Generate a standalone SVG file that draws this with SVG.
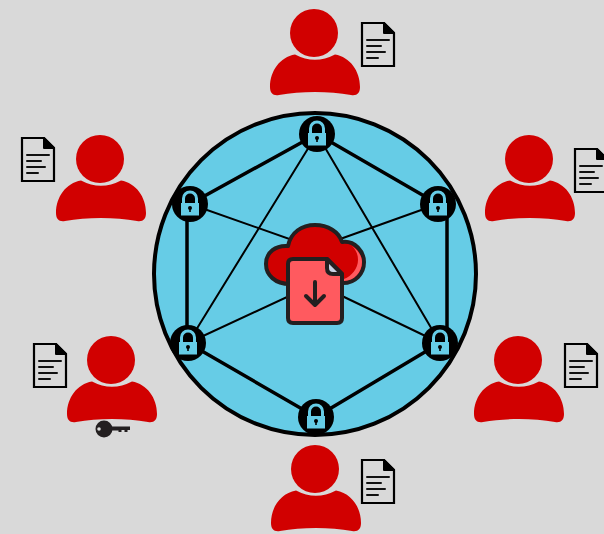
<svg xmlns="http://www.w3.org/2000/svg" width="604" height="534" viewBox="0 0 604 534">
<style>
.thin{stroke:#000;stroke-width:2;fill:none}
.thick{stroke:#000;stroke-width:3.500;fill:none}
.red{fill:#d10000}
.docline{stroke:#111;stroke-width:2;stroke-linecap:round;fill:none}
.outline{stroke:#231f20;stroke-width:4;stroke-linejoin:round}
</style>
<defs>
<g id="user">
<circle cx="0" cy="0" r="24" class="red"/>
<path class="red" d="M-19 21.500Q1 32 21 21.500C36 24 46 38 46 54C46 60 43 63 37 62C15 58-13 58-35 62C-41 63-44 60-44 54C-44 38-34 24-19 21.500Z"/>
</g>
<g id="doc">
<path d="M1 1H23L33 11V44H1Z" fill="none" stroke="#000" stroke-width="2.200"/>
<path d="M23 1L33 11H23Z" fill="#000" stroke="#000" stroke-width="2" stroke-linejoin="round"/>
<path class="docline" d="M6 18H28M6 24H20M6 30H24M6 36H17"/>
</g>
<g id="lock">
<circle r="18" fill="#000"/>
<path d="M-6.500-1V-5.500A6.500 6.500 0 0 1 6.500-5.500V-1" fill="none" stroke="#66cce6" stroke-width="3"/>
<rect x="-9" y="-1" width="18" height="12.500" fill="#66cce6"/>
<circle cx="0" cy="4" r="2" fill="#000"/>
<rect x="-0.800" y="4" width="1.600" height="4" fill="#000"/>
</g>
</defs>
<rect width="604" height="534" fill="#d9d9d9"/>
<circle cx="315" cy="274" r="161" fill="#66cce6" stroke="#000" stroke-width="4"/>
<g id="connectors">
<path class="thick" d="M317 134L438 204M438 204L447 212V335L440 343M440 343L316 417M316 417L188 343M187 335V212L190 204M190 204L317 134"/>
<path class="thin" d="M317 134L440 343M317 134L188 343M190 204L315 248M438 204L315 248M188 343L315 284M440 343L315 283"/>
</g>
<g id="lock-top"><use href="#lock" x="317" y="134"/></g>
<g id="lock-upper-right"><use href="#lock" x="438" y="204"/></g>
<g id="lock-lower-right"><use href="#lock" x="440" y="343"/></g>
<g id="lock-bottom"><use href="#lock" x="316" y="417"/></g>
<g id="lock-lower-left"><use href="#lock" x="188" y="343"/></g>
<g id="lock-upper-left"><use href="#lock" x="190" y="204"/></g>
<g id="cloud-file">
<path class="outline" fill="#d10000" d="M290 284C275 284 266 275 266 264C266 252 276 245 288 246C291 232 302 225 315 225C328 225 339 232 342 242C355 240 364 252 364 262C364 274 355 283 343 283Z"/>
<path fill="#ff5a5f" d="M352 246C358 250 362 256 362 262C362 272 354 281 344 281L344 279C352 276 358 268 358 260C358 254 356 250 352 246Z"/>
<path class="outline" fill="#ff5a5f" d="M293 259H327L342 274V318Q342 323 337 323H293Q288 323 288 318V264Q288 259 293 259Z"/>
<path fill="#c9d3e6" stroke="#231f20" stroke-width="4" stroke-linejoin="round" d="M327 259V268Q327 274 333 274H342Z"/>
<path d="M315 282V305M306 296L315 305L324 296" fill="none" stroke="#231f20" stroke-width="4" stroke-linecap="round" stroke-linejoin="round"/>
</g>
<g id="user-top"><use href="#user" x="314" y="33"/><use href="#doc" x="361" y="22"/></g>
<g id="user-upper-left"><use href="#user" x="100" y="159"/><use href="#doc" x="21" y="137"/></g>
<g id="user-upper-right"><use href="#user" x="529" y="159"/><use href="#doc" x="574" y="148"/></g>
<g id="user-lower-left"><use href="#user" x="111" y="360"/><use href="#doc" x="33" y="343"/>
<g id="key"><circle cx="104" cy="429" r="8.500" fill="#231f20"/><circle cx="99" cy="429" r="1.800" fill="#d9d9d9"/><path d="M110 426.500H130V430H127.500V432H124.500V430H121.500V432H118.500V430.500H110Z" fill="#231f20"/></g>
</g>
<g id="user-lower-right"><use href="#user" x="518" y="360"/><use href="#doc" x="564" y="343"/></g>
<g id="user-bottom"><use href="#user" x="315" y="469"/><use href="#doc" x="361" y="459"/></g>
</svg>
